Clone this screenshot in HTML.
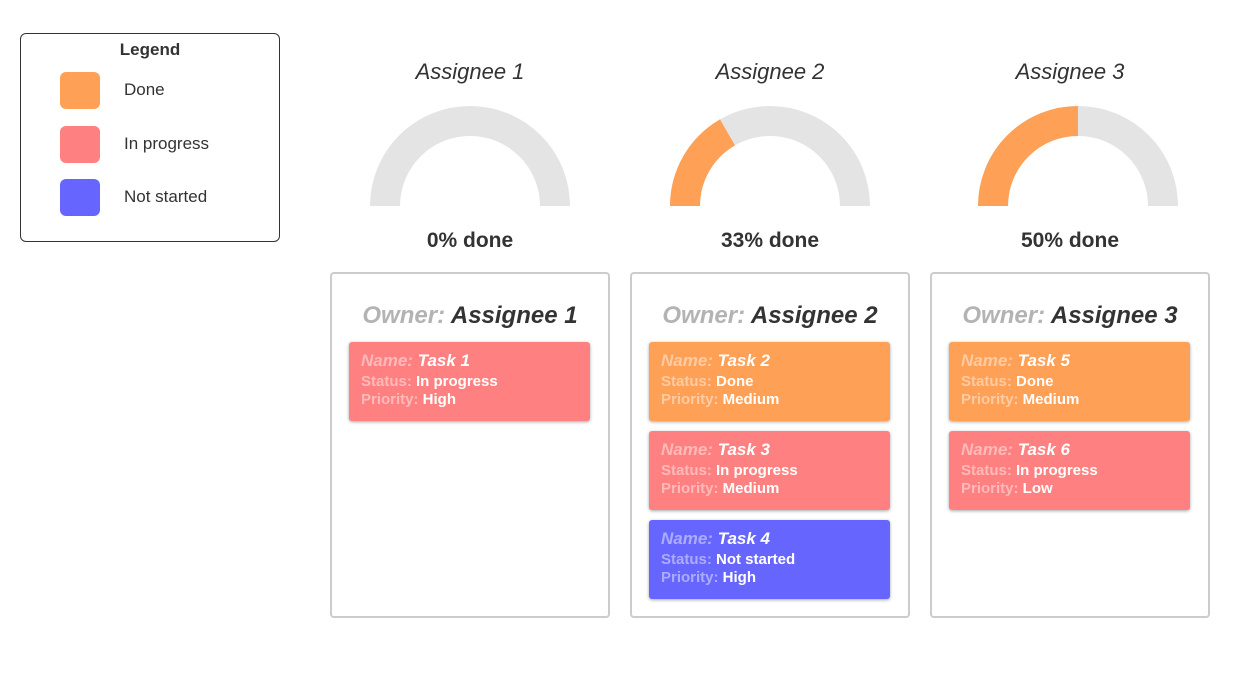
<!DOCTYPE html>
<html><head><style>
body{margin:0;width:1248px;height:677px;background:#fff;font-family:"Liberation Sans",sans-serif;position:relative;overflow:hidden}
.a{position:absolute}
.legend{left:20px;top:33px;width:258px;height:207px;border:1px solid #333;border-radius:6px}
.sw{position:absolute;left:39px;width:40px;height:37px;border-radius:6px}
.lt{position:absolute;left:103px;font-size:17px;color:#333}
.title{font-size:22px;font-style:italic;color:#333;width:200px;text-align:center}
.pct{font-size:21px;font-weight:bold;color:#333;width:200px;text-align:center}
.box{width:276px;height:342px;border:2px solid #ccc;border-radius:4px;top:272px}
.own{position:absolute;top:28px;width:100%;text-align:center;font-size:24px;font-weight:bold;font-style:italic;color:#333}
.own span{color:#b3b3b3}
.task{position:absolute;left:17px;width:241px;height:79px;border-radius:3px;box-shadow:0 1px 3px rgba(0,0,0,.35);color:#fff;font-weight:bold}
.task .n{position:absolute;top:9px;left:12px;font-size:17px;font-style:italic}
.task .s{position:absolute;top:31px;left:12px;font-size:15px}
.task .p{position:absolute;top:49px;left:12px;font-size:15px}
.task span{color:rgba(255,255,255,.45)}
.o{background:#ffa057}.r{background:#ff8080}.b{background:#6666ff}
</style></head><body>
<div class="a legend">
<div style="position:absolute;top:6px;width:100%;text-align:center;font-weight:bold;font-size:17px;color:#333">Legend</div>
<div class="sw o" style="top:38px"></div><div class="lt" style="top:46px">Done</div>
<div class="sw r" style="top:92px"></div><div class="lt" style="top:100px">In progress</div>
<div class="sw b" style="top:145px"></div><div class="lt" style="top:153px">Not started</div>
</div>
<div class="a title" style="left:370px;top:59px">Assignee 1</div>
<div class="a title" style="left:670px;top:59px">Assignee 2</div>
<div class="a title" style="left:970px;top:59px">Assignee 3</div>
<svg class="a" style="left:0;top:0" width="1248" height="677">
<g fill="none" stroke-width="30">
<path d="M385 206 A85 85 0 0 1 555 206" stroke="#e4e4e4"/>
<path d="M685 206 A85 85 0 0 1 855 206" stroke="#e4e4e4"/>
<path d="M685 206 A85 85 0 0 1 727.5 132.4" stroke="#ffa057"/>
<path d="M993 206 A85 85 0 0 1 1163 206" stroke="#e4e4e4"/>
<path d="M993 206 A85 85 0 0 1 1078 121" stroke="#ffa057"/>
</g></svg>
<div class="a pct" style="left:370px;top:229px">0% done</div>
<div class="a pct" style="left:670px;top:229px">33% done</div>
<div class="a pct" style="left:970px;top:229px">50% done</div>
<div class="a box" style="left:330px"><div class="own"><span>Owner:</span> Assignee 1</div>
<div class="task r" style="top:68px"><div class="n"><span>Name:</span> Task 1</div><div class="s"><span>Status:</span> In progress</div><div class="p"><span>Priority:</span> High</div></div></div>
<div class="a box" style="left:630px"><div class="own"><span>Owner:</span> Assignee 2</div>
<div class="task o" style="top:68px"><div class="n"><span>Name:</span> Task 2</div><div class="s"><span>Status:</span> Done</div><div class="p"><span>Priority:</span> Medium</div></div>
<div class="task r" style="top:157px"><div class="n"><span>Name:</span> Task 3</div><div class="s"><span>Status:</span> In progress</div><div class="p"><span>Priority:</span> Medium</div></div>
<div class="task b" style="top:246px"><div class="n"><span>Name:</span> Task 4</div><div class="s"><span>Status:</span> Not started</div><div class="p"><span>Priority:</span> High</div></div></div>
<div class="a box" style="left:930px"><div class="own"><span>Owner:</span> Assignee 3</div>
<div class="task o" style="top:68px"><div class="n"><span>Name:</span> Task 5</div><div class="s"><span>Status:</span> Done</div><div class="p"><span>Priority:</span> Medium</div></div>
<div class="task r" style="top:157px"><div class="n"><span>Name:</span> Task 6</div><div class="s"><span>Status:</span> In progress</div><div class="p"><span>Priority:</span> Low</div></div></div>
</body></html>
